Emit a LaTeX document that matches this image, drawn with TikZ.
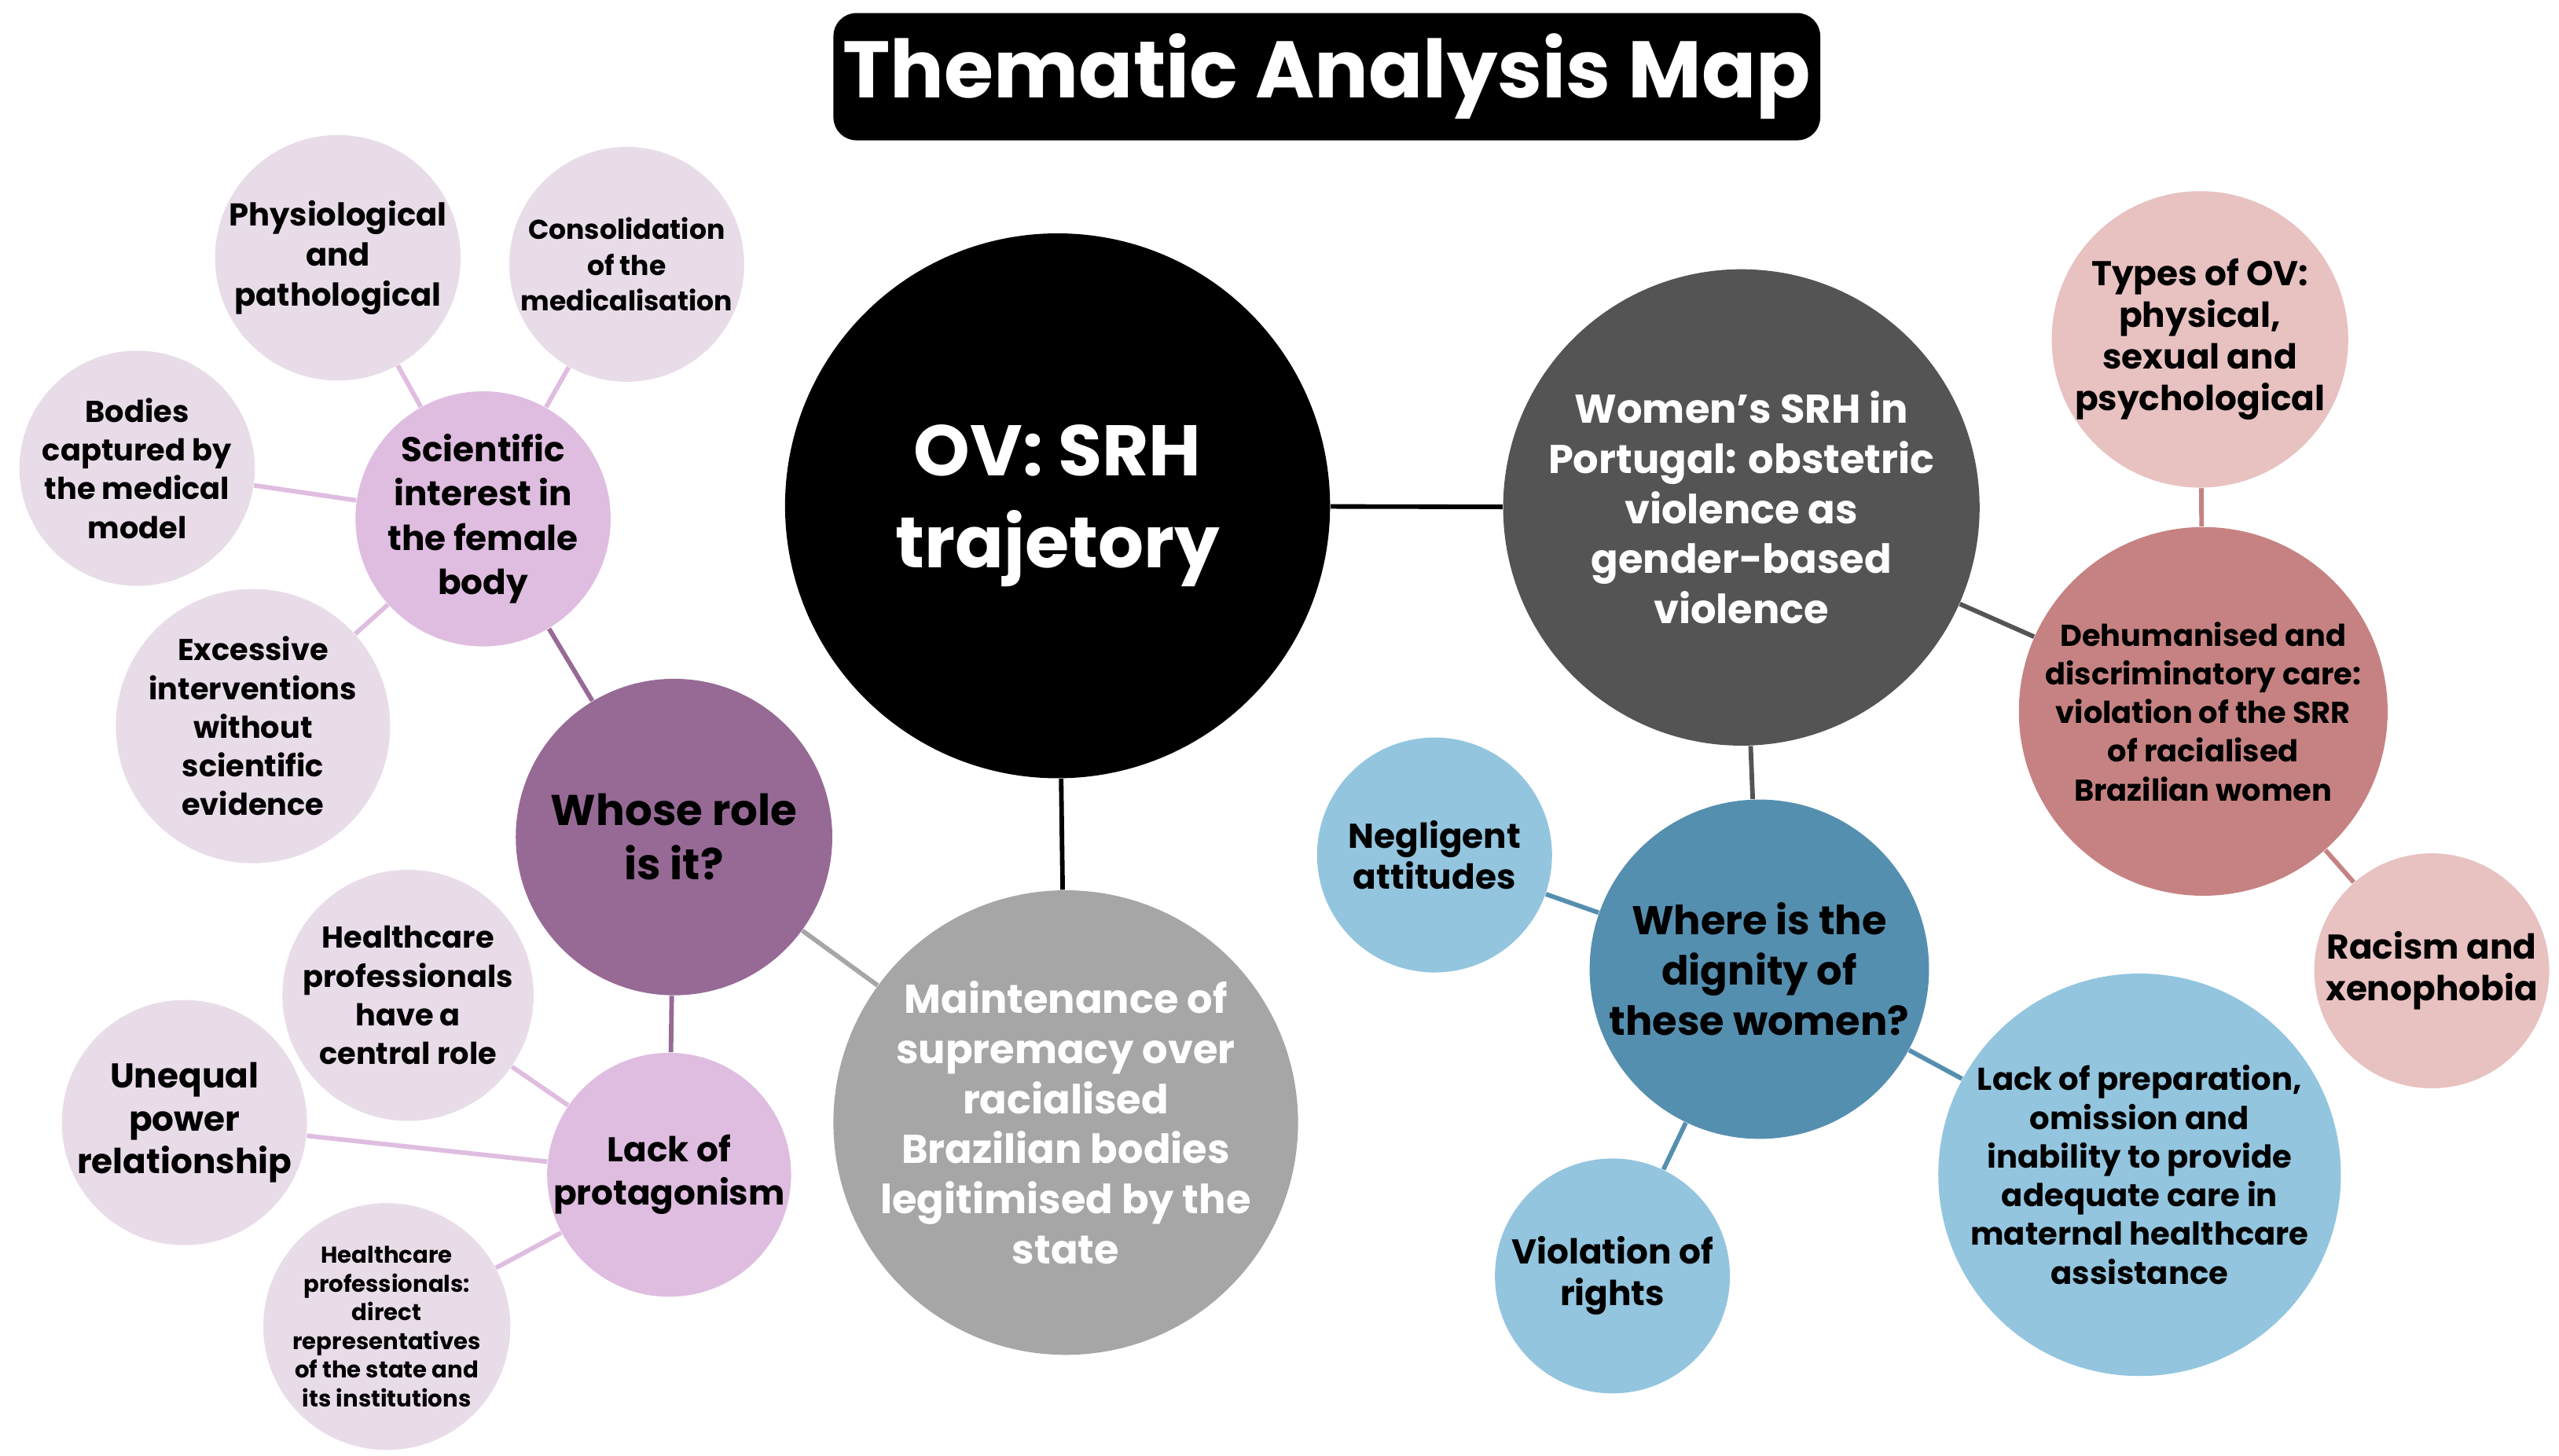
\documentclass[tikz,border=0pt]{standalone}
\usepackage{fontspec}
\setmainfont{Poppins}
\usetikzlibrary{backgrounds}
\definecolor{ovblack}{HTML}{000000}
\definecolor{srhgray}{HTML}{545454}
\definecolor{suprgray}{HTML}{A6A6A6}
\definecolor{rolepurple}{HTML}{976A96}
\definecolor{lilac}{HTML}{DFBDE0}
\definecolor{palelilac}{HTML}{E9DCE9}
\definecolor{dehumrose}{HTML}{C68282}
\definecolor{palerose}{HTML}{E8C1C1}
\definecolor{dignityblue}{HTML}{558FAF}
\definecolor{skyblue}{HTML}{93C5DF}
\begin{document}
\begin{tikzpicture}[x=0.02cm, y=-0.02cm,
    bubble/.style={circle, inner sep=0pt, align=center, font=\bfseries},
    leaf/.style={bubble, fill=palelilac, minimum size=2.88cm, font=\bfseries\fontsize{10.5}{13.5}\selectfont},
    link/.style={line width=1.6pt},
]
\useasboundingbox (0,0) rectangle (1568,892);

% === Title ===
\node[fill=black, rounded corners=8pt, minimum width=11.14cm, minimum height=1.56cm, text=white,
      font=\bfseries\fontsize{28}{34}\selectfont] (title) at (813,47) {Thematic Analysis Map};

% === Central themes ===
\node[bubble, fill=ovblack, minimum size=6.68cm, text=white, font=\bfseries\fontsize{25}{32}\selectfont] (ov) at (648,310) {OV: SRH\\trajetory};
\node[bubble, fill=srhgray, minimum size=5.84cm, text=white, font=\bfseries\fontsize{14}{17.5}\selectfont] (srh) at (1067,311)
    {Women's SRH in\\Portugal: obstetric\\violence as\\gender-based\\violence};
\node[bubble, fill=suprgray, minimum size=5.68cm, text=white, font=\bfseries\fontsize{14}{17.5}\selectfont] (supr) at (653,688)
    {Maintenance of\\supremacy over\\racialised\\Brazilian bodies\\legitimised by the\\state};

% === Left branch ===
\node[bubble, fill=rolepurple, minimum size=3.88cm, font=\bfseries\fontsize{15}{19}\selectfont] (role) at (413,513) {Whose role\\is it?};
\node[bubble, fill=lilac, minimum size=2.88cm, font=\bfseries\fontsize{12}{15.5}\selectfont] (sci) at (296,318) {Scientific\\interest in\\the female\\body};
\node[bubble, fill=lilac, minimum size=2.96cm, font=\bfseries\fontsize{12}{15}\selectfont] (prot) at (410,720) {Lack of\\protagonism};
\node[leaf, font=\bfseries\fontsize{11}{14}\selectfont] (phys) at (207,158) {Physiological\\and\\pathological};
\node[leaf, font=\bfseries\fontsize{9.5}{12.5}\selectfont] (cons) at (384,162) {Consolidation\\of the\\medicalisation};
\node[leaf] (bodies) at (84,287) {Bodies\\captured by\\the medical\\model};
\node[leaf] (exc) at (155,445) {Excessive\\interventions\\without\\scientific\\evidence};
\node[leaf] (central) at (250,610) {Healthcare\\professionals\\have a\\central role};
\node[leaf, font=\bfseries\fontsize{12}{15}\selectfont] (power) at (113,688) {Unequal\\power\\relationship};
\node[leaf, font=\bfseries\fontsize{8}{10}\selectfont] (direct) at (237,813) {Healthcare\\professionals:\\direct\\representatives\\of the state and\\its institutions};

% === Right branch ===
\node[bubble, fill=dehumrose, minimum size=4.52cm, font=\bfseries\fontsize{10.5}{13.5}\selectfont] (dehum) at (1350,436)
    {Dehumanised and\\discriminatory care:\\violation of the SRR\\of racialised\\Brazilian women};
\node[bubble, fill=palerose, minimum size=3.2cm, font=\bfseries\fontsize{12}{14.5}\selectfont] (types) at (1348,208) {Types of OV:\\physical,\\sexual and\\psychological};
\node[bubble, fill=palerose, minimum size=2.88cm, font=\bfseries\fontsize{12}{14.5}\selectfont] (racism) at (1490,595) {Racism and\\xenophobia};
\node[bubble, fill=dignityblue, minimum size=4.16cm, font=\bfseries\fontsize{14}{17.5}\selectfont] (dign) at (1078,594) {Where is the\\dignity of\\these women?};
\node[bubble, fill=skyblue, minimum size=2.88cm, font=\bfseries\fontsize{12}{14.5}\selectfont] (negl) at (879,524) {Negligent\\attitudes};
\node[bubble, fill=skyblue, minimum size=2.88cm, font=\bfseries\fontsize{12}{14.5}\selectfont] (viol) at (988,782) {Violation of\\rights};
\node[bubble, fill=skyblue, minimum size=4.44cm, font=\bfseries\fontsize{11}{13.5}\selectfont] (prep) at (1311,720)
    {Lack of preparation,\\omission and\\inability to provide\\adequate care in\\maternal healthcare\\assistance};

% === Connectors ===
\begin{scope}[on background layer]
\draw[link, black] (ov) -- (srh);
\draw[link, black] (ov) -- (supr);
\draw[link, suprgray] (supr) -- (role);
\draw[link, rolepurple] (role) -- (sci);
\draw[link, rolepurple] (role) -- (prot);
\foreach \n in {phys,cons,bodies,exc}{
    \draw[link, lilac] (sci) -- (\n);
}
\foreach \n in {central,power,direct}{
    \draw[link, lilac] (prot) -- (\n);
}
\draw[link, srhgray] (srh) -- (dehum);
\draw[link, srhgray] (srh) -- (dign);
\draw[link, dehumrose] (dehum) -- (types);
\draw[link, dehumrose] (dehum) -- (racism);
\foreach \n in {negl,viol,prep}{
    \draw[link, dignityblue] (dign) -- (\n);
}
\end{scope}
\end{tikzpicture}
\end{document}
